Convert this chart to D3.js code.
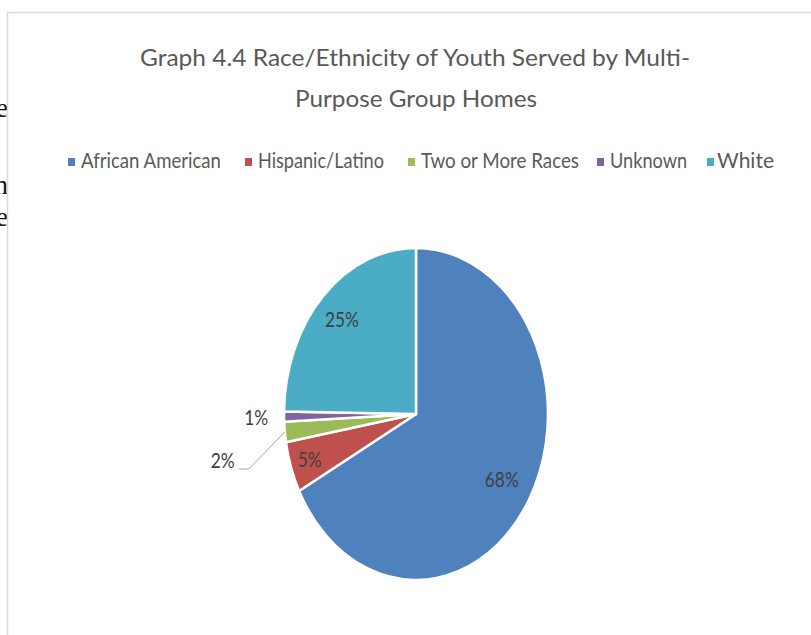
<!DOCTYPE html>
<html>
<head>
<meta charset="utf-8">
<script src="https://cdn.jsdelivr.net/npm/d3@7"></script>
<style>
  html, body { margin: 0; padding: 0; background: #ffffff; }
  svg { display: block; }
</style>
</head>
<body>
<svg id="chart" width="811" height="635"></svg>
<script>
// Race/ethnicity shares (percent) of youth served
const categories = ["African American", "Hispanic/Latino", "Two or More Races", "Unknown", "White"];
const shares = [68, 5, 2, 1, 25];
const sliceColors = ["#4F81BD", "#C0504D", "#9BBB59", "#8064A2", "#4BACC6"];
const titleLines = ["Graph 4.4 Race/Ethnicity of Youth Served  by Multi-", "Purpose Group Homes"];
// fragments of the surrounding document text, clipped by the chart frame
const pageFragments = ["e", "n", "e"];

const svg = d3.select("#chart");
const W = 811, H = 635;
const FONT = "Lato, 'Open Sans', sans-serif";

// page fragments to the left of the frame
const fragY = [117, 194, 226];
svg.selectAll("text.frag").data(pageFragments).join("text")
  .attr("class", "frag")
  .attr("x", 8).attr("y", (d, i) => fragY[i])
  .attr("text-anchor", "end")
  .attr("font-family", "'Liberation Serif', 'Times New Roman', serif")
  .attr("font-size", 27)
  .attr("fill", "#111")
  .text(d => d);

// chart frame
svg.append("rect")
  .attr("x", 7.5).attr("y", 12.5)
  .attr("width", W + 10).attr("height", H + 10)
  .attr("fill", "#ffffff")
  .attr("stroke", "#d9d9d9").attr("stroke-width", 1.5);

// title
const titleSpecs = [
  { x: 140, y: 66, len: 550 },
  { x: 295, y: 107, len: 242 }
];
svg.selectAll("text.title").data(titleLines).join("text")
  .attr("class", "title")
  .attr("x", (d, i) => titleSpecs[i].x)
  .attr("y", (d, i) => titleSpecs[i].y)
  .attr("textLength", (d, i) => titleSpecs[i].len)
  .attr("lengthAdjust", "spacingAndGlyphs")
  .attr("font-family", FONT)
  .attr("font-size", 24)
  .attr("fill", "#595959")
  .text(d => d);

// legend
const legendX = [68, 245, 408, 597, 707];
const legendTextLen = [140, 126, 158, 77, 57];
const legend = svg.append("g");
const items = legend.selectAll("g").data(categories).join("g")
  .attr("transform", (d, i) => `translate(${legendX[i]},0)`);
items.append("rect")
  .attr("x", 0).attr("y", 158).attr("width", 7).attr("height", 8)
  .attr("fill", (d, i) => sliceColors[i]);
items.append("text")
  .attr("x", (d, i) => i === 4 ? 10 : 13)
  .attr("y", 168)
  .attr("textLength", (d, i) => legendTextLen[i])
  .attr("lengthAdjust", "spacingAndGlyphs")
  .attr("font-family", FONT)
  .attr("font-size", 22)
  .attr("fill", "#595959")
  .text(d => d);

// pie (circle stretched vertically into an ellipse)
const cx = 416, cy = 414, rx = 132, ry = 166;
const ky = ry / rx;
const pie = d3.pie().sort(null).value(d => d)(shares);
const arc = d3.arc().innerRadius(0).outerRadius(rx);

const pieG = svg.append("g").attr("transform", `translate(${cx},${cy}) scale(1,${ky})`);
pieG.selectAll("path").data(pie).join("path")
  .attr("d", arc)
  .attr("fill", (d, i) => sliceColors[i])
  .attr("stroke", "#ffffff")
  .attr("stroke-width", 2.5)
  .attr("vector-effect", "non-scaling-stroke");

// point on the ellipse at a given angle and radius fraction
function pt(angle, f) {
  return [cx + f * rx * Math.sin(angle), cy - f * ry * Math.cos(angle)];
}
const mid = d => (d.startAngle + d.endAngle) / 2;

const labelG = svg.append("g")
  .attr("font-family", FONT)
  .attr("font-size", 22)
  .attr("fill", "#404040");

const insideF = [0.76, 0.85, null, null, 0.8];
const labelLen = { 1: 24, 2: 34 };
pie.forEach((d, i) => {
  const txt = d.data + "%";
  const len = labelLen[txt.length - 1];
  if (insideF[i] !== null) {
    const [x, y] = pt(mid(d), insideF[i]);
    labelG.append("text")
      .attr("x", x - len / 2).attr("y", y + 8)
      .attr("textLength", len).attr("lengthAdjust", "spacingAndGlyphs")
      .text(txt);
  } else if (i === 3) {
    const [x, y] = pt(mid(d), 1.21);
    labelG.append("text")
      .attr("x", x - len / 2).attr("y", y + 8)
      .attr("textLength", len).attr("lengthAdjust", "spacingAndGlyphs")
      .text(txt);
  } else {
    // leader line from the slice edge down-left to the label
    const [ex, ey] = pt(mid(d), 1.0);
    const elbow = [ex - 36, ey + 37];
    const end = [elbow[0] - 10, elbow[1]];
    svg.append("path")
      .attr("d", d3.line()([[ex, ey], elbow, end]))
      .attr("fill", "none")
      .attr("stroke", "#a6a6a6")
      .attr("stroke-width", 1);
    labelG.append("text")
      .attr("x", end[0] - 4 - len).attr("y", end[1] - 1)
      .attr("textLength", len).attr("lengthAdjust", "spacingAndGlyphs")
      .text(txt);
  }
});
</script>
</body>
</html>
